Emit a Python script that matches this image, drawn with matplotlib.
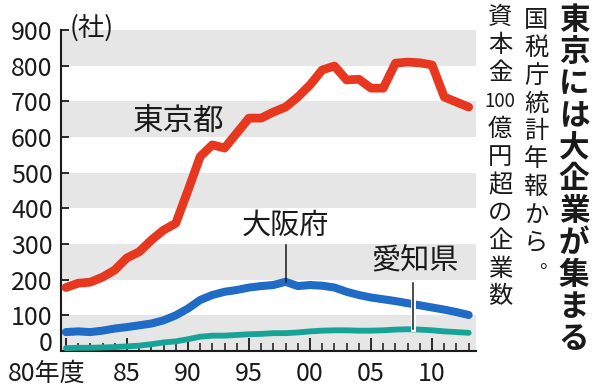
import matplotlib
matplotlib.use("Agg")
import matplotlib.patheffects as pe
import matplotlib.pyplot as plt
import matplotlib.transforms as mtransforms
import numpy as np

plt.rcParams["font.family"] = ["Noto Sans CJK JP", "DejaVu Sans"]

# 資本金100億円超の企業数 (社), 1980-2013年度
years = list(range(1980, 2014))
tokyo = [178, 190, 193, 207, 227, 261, 278, 311, 339, 358,
         450, 545, 578, 569, 611, 653, 653, 670, 684, 712,
         746, 788, 799, 760, 762, 737, 737, 807, 810, 808,
         802, 712, 698, 684]
osaka = [53, 55, 53, 57, 63, 67, 72, 77, 86, 100,
         119, 143, 157, 166, 171, 178, 182, 185, 194, 182,
         185, 183, 178, 166, 157, 150, 145, 140, 134, 128,
         122, 116, 109, 101]
aichi = [8, 9, 9, 10, 11, 13, 15, 19, 24, 27,
         33, 40, 43, 43, 45, 47, 48, 50, 50, 52,
         55, 57, 58, 58, 57, 57, 58, 60, 61, 60,
         58, 55, 53, 51]

xticks = [1980, 1985, 1990, 1995, 2000, 2005, 2010]
xlabels = ["80年度", "85", "90", "95", "00", "05", "10"]
yticks = list(range(0, 901, 100))

title = "東京には大企業が集まる"
source = list("国税庁統計年報から。")
note = ["資", "本", "金", "100", "億", "円", "超", "の", "企", "業", "数"]

RED = "#e8371f"
BLUE = "#1f6bc6"
TEAL = "#18a398"
BAND = "#e6e6e6"
INK = "#1a1a1a"

W, H = 600, 387
fig = plt.figure(figsize=(W / 100, H / 100), dpi=100)


def px(x, y):
    return x / W, 1 - y / H


ax = fig.add_axes([61 / W, 1 - 351 / H, 415 / W, 321 / H])
ax.set_xlim(1979.6, 2013.6)
ax.set_ylim(0, 900)

for lo in range(0, 900, 200):
    ax.axhspan(lo, lo + 100, color=BAND, lw=0, zorder=0)

line_kw = dict(solid_capstyle="round", solid_joinstyle="round", zorder=3)
ax.plot(years, aichi, color=TEAL, lw=4.2, **line_kw)
ax.plot(years, osaka, color=BLUE, lw=5.8, **line_kw)
ax.plot(years, tokyo, color=RED, lw=6.3, **line_kw)

for side in ("top", "right"):
    ax.spines[side].set_visible(False)
for side in ("left", "bottom"):
    ax.spines[side].set_linewidth(1.5)
    ax.spines[side].set_color(INK)

ax.tick_params(axis="y", direction="in", length=6, width=1.3,
               labelsize=18, pad=6, colors=INK)
ax.tick_params(axis="x", which="major", direction="in", length=9.5, width=1.3,
               labelsize=18, pad=7, colors=INK)
ax.tick_params(axis="x", which="minor", direction="in", length=5.5, width=1.1,
               colors=INK)
ax.set_yticks(yticks)
ax.set_xticks(xticks)
ax.set_xticklabels(xlabels)
ax.set_xticks(years, minor=True)

# 0 sits a little higher, 80年度 a little to the left
zero = ax.yaxis.get_major_ticks()[0].label1
zero.set_transform(zero.get_transform()
                   + mtransforms.ScaledTranslation(0, 0.10, fig.dpi_scale_trans))
first = ax.xaxis.get_major_ticks()[0].label1
first.set_transform(first.get_transform()
                    + mtransforms.ScaledTranslation(-0.19, 0, fig.dpi_scale_trans))

# series labels
ax.text(1989.26, 645, "東京都", fontsize=22, ha="center", va="center", color=INK, zorder=5)
ax.text(1998.0, 350, "大阪府", fontsize=21, ha="center", va="center", color=INK, zorder=5)
ax.plot([1998, 1998], [297, np.interp(1998, years, osaka)], color=INK, lw=1.1, zorder=4)
ax.text(2008.6, 252, "愛知県", fontsize=21, ha="center", va="center", color=INK, zorder=5)
ax.plot([2008.44, 2008.44], [191, np.interp(2008.44, years, aichi)], color=INK, lw=1.1,
        zorder=4, path_effects=[pe.withStroke(linewidth=3.5, foreground="white")])

fig.text(*px(92, 28), "(社)", fontsize=19, ha="center", va="center", color=INK)

# vertical headline and notes
for i, ch in enumerate(title):
    fig.text(*px(574, 20.5 + i * 31.8), ch, fontsize=22, fontweight="bold",
             ha="center", va="center", color=INK)

for i, ch in enumerate(source):
    x, y = 536, 20 + i * 27.8
    if ch == "。":
        x, y = x + 13, y - 8
        fig.text(*px(x, y), ch, fontsize=14, ha="center", va="center", color=INK)
        continue
    fig.text(*px(x, y), ch, fontsize=17.5, ha="center", va="center", color=INK)

for i, ch in enumerate(note):
    fig.text(*px(500, 17.5 + i * 27.9), ch, fontsize=13.5 if ch == "100" else 17.5,
             ha="center", va="center", color=INK)

fig.savefig("out.png", dpi=100, facecolor="white")
